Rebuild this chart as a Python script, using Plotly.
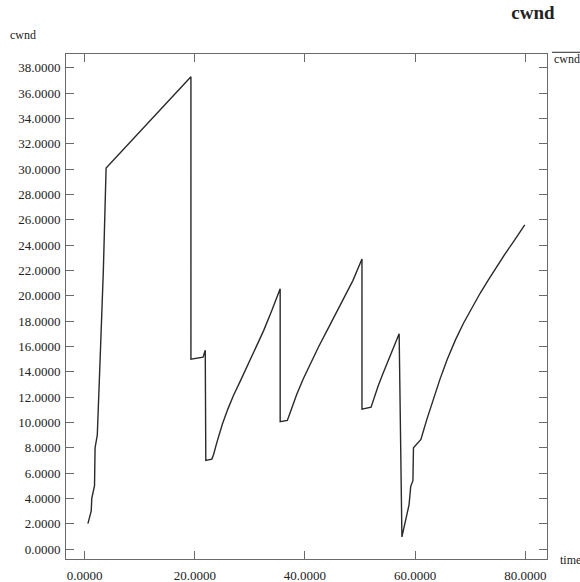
import plotly.graph_objects as go

# cwnd trace
time = [0.6, 1.2, 1.3, 1.6, 1.8, 1.9, 2.3, 2.9, 3.4, 3.9,
        19.3,
        19.3, 21.5, 21.9, 22.0, 23.1, 23.4, 24.0, 25.0, 26.0, 27.0, 28.3, 29.5, 31.0, 32.5, 34.0, 35.5,
        35.5, 36.8, 37.5, 38.5, 39.7, 41.0, 42.5, 44.0, 45.5, 47.0, 48.7, 50.35,
        50.35, 52.0, 52.6, 53.3, 54.2, 55.1, 56.1, 57.1,
        57.6, 58.6, 58.9, 59.2, 59.6, 59.7, 60.6, 61.05, 62.1, 63.3, 64.5, 65.8, 67.3, 68.8,
        70.3, 71.8, 73.3, 74.8, 76.3, 77.9, 79.9]
cwnd = [2.0, 3.0, 4.0, 4.6, 5.0, 8.0, 9.0, 16.0, 22.0, 30.1,
        37.3,
        15.0, 15.15, 15.7, 7.0, 7.1, 7.45, 8.4, 9.85, 11.05, 12.1, 13.3, 14.4, 15.8, 17.25, 18.85, 20.55,
        10.05, 10.15, 11.0, 12.2, 13.45, 14.7, 16.0, 17.25, 18.5, 19.75, 21.2, 22.9,
        11.05, 11.2, 12.0, 12.9, 13.9, 14.9, 16.0, 17.0,
        0.95, 2.9, 3.5, 4.95, 5.4, 8.0, 8.4, 8.65, 10.2, 11.9, 13.4, 14.95, 16.5, 17.85,
        19.05, 20.2, 21.25, 22.3, 23.3, 24.3, 25.6]

x_ticks = [0, 20, 40, 60, 80]
y_ticks = [i * 2 for i in range(20)]

FONT = "Liberation Serif"
FRAME = "#6a6a6a"

fig = go.Figure()
fig.add_trace(go.Scatter(x=time, y=cwnd, mode="lines",
                         line=dict(color="#2a2a2a", width=1.4),
                         showlegend=False, hoverinfo="skip"))

axis_common = dict(showgrid=False, zeroline=False, showline=True, linecolor=FRAME,
                   linewidth=1, mirror="ticks", ticks="inside", ticklen=8,
                   tickcolor=FRAME, tickwidth=1, tickformat=".4f", automargin=False,
                   tickfont=dict(family=FONT, size=13, color="#222"))

fig.update_xaxes(range=[-3.38, 83.94], tickvals=x_ticks, ticklabelstandoff=4, **axis_common)
fig.update_yaxes(range=[-0.79, 39.1], tickvals=y_ticks, ticklabelstandoff=2, **axis_common)

fig.update_layout(
    width=580, height=582,
    margin=dict(l=66, r=33, t=54, b=23),
    paper_bgcolor="white", plot_bgcolor="white",
    title=dict(text="<b>cwnd</b>", x=0.919, xanchor="center", y=0.978, yanchor="middle",
               xref="container", yref="container",
               font=dict(family=FONT, size=19, color="#222")),
    annotations=[
        dict(text="cwnd", xref="paper", yref="paper", x=-0.0894, y=1.0376,
             xanchor="center", yanchor="middle", showarrow=False,
             font=dict(family=FONT, size=12, color="#222")),
        dict(text="time", xref="paper", yref="paper", x=1.0229, y=-0.002,
             xanchor="left", yanchor="middle", showarrow=False,
             font=dict(family=FONT, size=12, color="#222")),
        dict(text="cwnd", xref="paper", yref="paper", x=1.0104, y=0.990,
             xanchor="left", yanchor="middle", showarrow=False,
             font=dict(family=FONT, size=12, color="#222")),
    ],
    shapes=[
        dict(type="line", xref="paper", yref="paper", x0=1.0104, x1=1.07,
             y0=1.0034, y1=1.0034, line=dict(color="#2a2a2a", width=1)),
    ],
)

fig.write_html("out.html", config={"displayModeBar": False},
               post_script="document.body.style.margin='0';")
